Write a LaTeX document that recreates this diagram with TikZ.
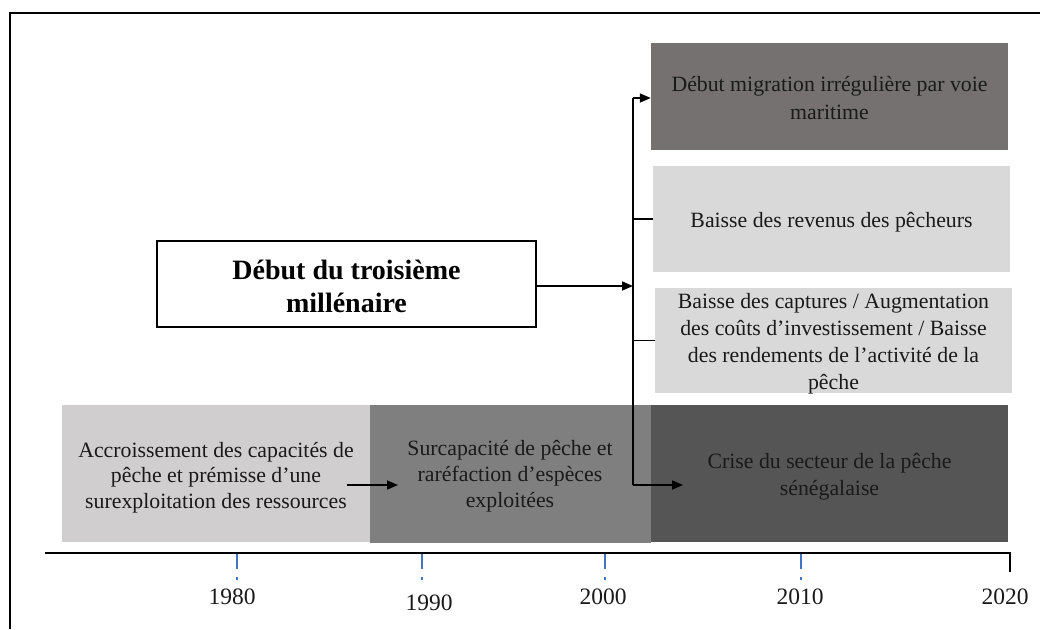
\documentclass[tikz,border=0pt]{standalone}
\usepackage{fontspec}
\setmainfont{Liberation Serif}
\usetikzlibrary{arrows.meta}
\definecolor{cMig}{HTML}{757170}
\definecolor{cLight}{HTML}{D9D9D9}
\definecolor{cCrise}{HTML}{555555}
\definecolor{cAcc}{HTML}{D0CECE}
\definecolor{cSur}{HTML}{7F7F7F}
\definecolor{tickblue}{HTML}{4472C4}
\definecolor{txt}{HTML}{1A1A1A}
\begin{document}
\begin{tikzpicture}[x=1pt,y=-1pt,
  box/.style={draw=none, inner sep=0pt},
  lbl/.style={inner sep=0pt, align=center, text=txt,
    font=\fontsize{21.8}{27}\selectfont},
  conn/.style={line width=1.6pt, draw=black},
  arr/.style={conn, -{Triangle[length=11pt,width=9pt]}},
  yeartick/.style={draw=tickblue, line width=1.1pt, dash pattern=on 15pt off 8pt on 3pt off 10pt},
  yr/.style={font=\fontsize{23.5}{25}\selectfont, text=txt, inner sep=0pt}]
\useasboundingbox (0,0) rectangle (1040,629);
% frame
\coordinate (f0) at (10,629);
\coordinate (f1) at (10,13);
\coordinate (f2) at (1040,13);
\draw[line width=1.5pt] (f0) -- (f1) -- (f2);

% right column boxes
\node[box, fill=cMig, minimum width=357pt, minimum height=107pt] (mig) at (829.5,96.5) {};
\node[lbl] (mig-t) at ([yshift=-2pt]mig.center)
  {Début migration irrégulière par voie\\[1pt]maritime};
\node[box, fill=cLight, minimum width=357pt, minimum height=106pt] (rev) at (831.5,219) {};
\node[lbl] (rev-t) at ([yshift=-3pt]rev.center) {Baisse des revenus des pêcheurs};
\node[box, fill=cLight, minimum width=357pt, minimum height=105pt] (cap) at (833.5,340.5) {};
\node[lbl] (cap-t) at ([yshift=-3pt]cap.center)
  {Baisse des captures / Augmentation\\des coûts d’investissement / Baisse\\des rendements de l’activité de la\\pêche};

% bottom row boxes
\node[box, fill=cAcc, minimum width=308pt, minimum height=137pt] (acc) at (216,473.5) {};
\node[lbl, font=\fontsize{21.8}{25.5}\selectfont] (acc-t) at ([yshift=-4pt]acc.center)
  {Accroissement des capacités de\\pêche et prémisse d’une\\surexploitation des ressources};
\node[box, fill=cSur, minimum width=281pt, minimum height=138pt] (sur) at (510,474) {};
\node[lbl, font=\fontsize{21.8}{26}\selectfont] (sur-t) at ([yshift=-2pt]sur.center)
  {Surcapacité de pêche et\\raréfaction d’espèces\\exploitées};
\node[box, fill=cCrise, minimum width=357pt, minimum height=137pt] (cri) at (829.5,473.5) {};
\node[lbl] (cri-t) at ([yshift=-3pt]cri.center)
  {Crise du secteur de la pêche\\sénégalaise};

% millennium box
\node[draw=black, line width=1.5pt, fill=white, inner sep=0pt,
  minimum width=379pt, minimum height=86pt] (deb) at (346.5,284) {};
\node[inner sep=0pt, align=center, text=black,
  font=\fontsize{28}{33}\selectfont\bfseries] (deb-t) at ([yshift=-2pt]deb.center)
  {Début du troisième\\millénaire};

% connectors
\coordinate (s1) at (633,98);
\coordinate (s4) at (633,485);
\coordinate (c4) at (683,485);
\draw[conn] (s1) -- (s4);
\draw[arr] (s1) -- (s1 -| mig.west);
\draw[conn] (s1 |- rev) -- (rev.west);
\draw[conn] (s1 |- cap) -- (cap.west);
\draw[arr] ([yshift=-2pt]deb.east) -- ([yshift=-2pt]deb.east -| s1);
\draw[arr] (s4) -- (c4);
\coordinate (a1) at (347,485);
\coordinate (a2) at (398,485);
\draw[arr] (a1) -- (a2);

% axis
\coordinate (ax0) at (45,553);
\coordinate (ax1) at (1010,553);
\coordinate (ax2) at (1010,572);
\draw[conn] (ax0) -- (ax1) -- (ax2);
\foreach \x/\n in {237/t80, 422/t90, 605/t00, 801/t10}{
  \coordinate (\n a) at (\x,554);
  \coordinate (\n b) at (\x,582);
  \draw[yeartick] (\n a) -- (\n b);
}
\node[yr] (y80) at (232,597) {1980};
\node[yr] (y90) at (429,603) {1990};
\node[yr] (y00) at (603,597) {2000};
\node[yr] (y10) at (800,597) {2010};
\node[yr] (y20) at (1005,597) {2020};
\end{tikzpicture}
\end{document}
